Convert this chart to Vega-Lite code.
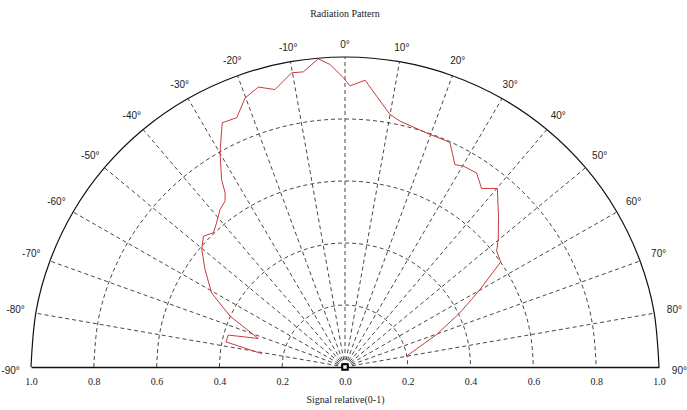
{
  "$schema": "https://vega.github.io/schema/vega-lite/v6.json",
  "width": 628,
  "height": 310,
  "autosize": {"type": "none"},
  "padding": {"left": 31, "top": 57, "right": 28, "bottom": 43},
  "background": "white",
  "title": {"text": "Radiation Pattern", "font": "Liberation Serif", "fontSize": 10, "fontWeight": "normal", "color": "#222", "anchor": "middle", "frame": "group", "offset": 21},
  "config": {"view": {"stroke": null}},
  "datasets": {
    "arcs": [
      {"r":0.2,"x":-0.2,"y":0},{"r":0.2,"x":-0.197,"y":0.0347},{"r":0.2,"x":-0.1879,"y":0.0684},{"r":0.2,"x":-0.1732,"y":0.1},{"r":0.2,"x":-0.1532,"y":0.1286},{"r":0.2,"x":-0.1286,"y":0.1532},{"r":0.2,"x":-0.1,"y":0.1732},{"r":0.2,"x":-0.0684,"y":0.1879},{"r":0.2,"x":-0.0347,"y":0.197},{"r":0.2,"x":0,"y":0.2},
      {"r":0.2,"x":0.0347,"y":0.197},{"r":0.2,"x":0.0684,"y":0.1879},{"r":0.2,"x":0.1,"y":0.1732},{"r":0.2,"x":0.1286,"y":0.1532},{"r":0.2,"x":0.1532,"y":0.1286},{"r":0.2,"x":0.1732,"y":0.1},{"r":0.2,"x":0.1879,"y":0.0684},{"r":0.2,"x":0.197,"y":0.0347},{"r":0.2,"x":0.2,"y":0},
      {"r":0.4,"x":-0.4,"y":0},{"r":0.4,"x":-0.3939,"y":0.0695},{"r":0.4,"x":-0.3759,"y":0.1368},{"r":0.4,"x":-0.3464,"y":0.2},{"r":0.4,"x":-0.3064,"y":0.2571},{"r":0.4,"x":-0.2571,"y":0.3064},{"r":0.4,"x":-0.2,"y":0.3464},{"r":0.4,"x":-0.1368,"y":0.3759},{"r":0.4,"x":-0.0695,"y":0.3939},{"r":0.4,"x":0,"y":0.4},
      {"r":0.4,"x":0.0695,"y":0.3939},{"r":0.4,"x":0.1368,"y":0.3759},{"r":0.4,"x":0.2,"y":0.3464},{"r":0.4,"x":0.2571,"y":0.3064},{"r":0.4,"x":0.3064,"y":0.2571},{"r":0.4,"x":0.3464,"y":0.2},{"r":0.4,"x":0.3759,"y":0.1368},{"r":0.4,"x":0.3939,"y":0.0695},{"r":0.4,"x":0.4,"y":0},
      {"r":0.6,"x":-0.6,"y":0},{"r":0.6,"x":-0.5909,"y":0.1042},{"r":0.6,"x":-0.5638,"y":0.2052},{"r":0.6,"x":-0.5196,"y":0.3},{"r":0.6,"x":-0.4596,"y":0.3857},{"r":0.6,"x":-0.3857,"y":0.4596},{"r":0.6,"x":-0.3,"y":0.5196},{"r":0.6,"x":-0.2052,"y":0.5638},{"r":0.6,"x":-0.1042,"y":0.5909},{"r":0.6,"x":0,"y":0.6},
      {"r":0.6,"x":0.1042,"y":0.5909},{"r":0.6,"x":0.2052,"y":0.5638},{"r":0.6,"x":0.3,"y":0.5196},{"r":0.6,"x":0.3857,"y":0.4596},{"r":0.6,"x":0.4596,"y":0.3857},{"r":0.6,"x":0.5196,"y":0.3},{"r":0.6,"x":0.5638,"y":0.2052},{"r":0.6,"x":0.5909,"y":0.1042},{"r":0.6,"x":0.6,"y":0},
      {"r":0.8,"x":-0.8,"y":0},{"r":0.8,"x":-0.7878,"y":0.1389},{"r":0.8,"x":-0.7518,"y":0.2736},{"r":0.8,"x":-0.6928,"y":0.4},{"r":0.8,"x":-0.6128,"y":0.5142},{"r":0.8,"x":-0.5142,"y":0.6128},{"r":0.8,"x":-0.4,"y":0.6928},{"r":0.8,"x":-0.2736,"y":0.7518},{"r":0.8,"x":-0.1389,"y":0.7878},{"r":0.8,"x":0,"y":0.8},
      {"r":0.8,"x":0.1389,"y":0.7878},{"r":0.8,"x":0.2736,"y":0.7518},{"r":0.8,"x":0.4,"y":0.6928},{"r":0.8,"x":0.5142,"y":0.6128},{"r":0.8,"x":0.6128,"y":0.5142},{"r":0.8,"x":0.6928,"y":0.4},{"r":0.8,"x":0.7518,"y":0.2736},{"r":0.8,"x":0.7878,"y":0.1389},{"r":0.8,"x":0.8,"y":0},
      {"r":1,"x":-1,"y":0},{"r":1,"x":-0.9848,"y":0.1736},{"r":1,"x":-0.9397,"y":0.342},{"r":1,"x":-0.866,"y":0.5},{"r":1,"x":-0.766,"y":0.6428},{"r":1,"x":-0.6428,"y":0.766},{"r":1,"x":-0.5,"y":0.866},{"r":1,"x":-0.342,"y":0.9397},{"r":1,"x":-0.1736,"y":0.9848},{"r":1,"x":0,"y":1},
      {"r":1,"x":0.1736,"y":0.9848},{"r":1,"x":0.342,"y":0.9397},{"r":1,"x":0.5,"y":0.866},{"r":1,"x":0.6428,"y":0.766},{"r":1,"x":0.766,"y":0.6428},{"r":1,"x":0.866,"y":0.5},{"r":1,"x":0.9397,"y":0.342},{"r":1,"x":0.9848,"y":0.1736},{"r":1,"x":1,"y":0}
    ],
    "spokes": [
      {"a":-80,"x":0,"y":0,"x2":-0.9848,"y2":0.1736},{"a":-70,"x":0,"y":0,"x2":-0.9397,"y2":0.342},{"a":-60,"x":0,"y":0,"x2":-0.866,"y2":0.5},{"a":-50,"x":0,"y":0,"x2":-0.766,"y2":0.6428},{"a":-40,"x":0,"y":0,"x2":-0.6428,"y2":0.766},{"a":-30,"x":0,"y":0,"x2":-0.5,"y2":0.866},{"a":-20,"x":0,"y":0,"x2":-0.342,"y2":0.9397},{"a":-10,"x":0,"y":0,"x2":-0.1736,"y2":0.9848},{"a":0,"x":0,"y":0,"x2":0,"y2":1},
      {"a":10,"x":0,"y":0,"x2":0.1736,"y2":0.9848},{"a":20,"x":0,"y":0,"x2":0.342,"y2":0.9397},{"a":30,"x":0,"y":0,"x2":0.5,"y2":0.866},{"a":40,"x":0,"y":0,"x2":0.6428,"y2":0.766},{"a":50,"x":0,"y":0,"x2":0.766,"y2":0.6428},{"a":60,"x":0,"y":0,"x2":0.866,"y2":0.5},{"a":70,"x":0,"y":0,"x2":0.9397,"y2":0.342},{"a":80,"x":0,"y":0,"x2":0.9848,"y2":0.1736}
    ],
    "labels": [
      {"lab":"-90°","x":-1.065,"y":-0.012},{"lab":"-80°","x":-1.049,"y":0.185},{"lab":"-70°","x":-0.999,"y":0.364},{"lab":"-60°","x":-0.919,"y":0.531},{"lab":"-50°","x":-0.811,"y":0.681},{"lab":"-40°","x":-0.679,"y":0.809},{"lab":"-30°","x":-0.526,"y":0.911},{"lab":"-20°","x":-0.359,"y":0.986},{"lab":"-10°","x":-0.181,"y":1.028},{"lab":"0°","x":0,"y":1.04},
      {"lab":"10°","x":0.181,"y":1.028},{"lab":"20°","x":0.359,"y":0.986},{"lab":"30°","x":0.526,"y":0.911},{"lab":"40°","x":0.679,"y":0.809},{"lab":"50°","x":0.811,"y":0.681},{"lab":"60°","x":0.919,"y":0.531},{"lab":"70°","x":0.999,"y":0.364},{"lab":"80°","x":1.049,"y":0.185},{"lab":"90°","x":1.065,"y":-0.012}
    ],
    "pattern": [
      {"i":1,"x":-0.265,"y":0.043},{"i":2,"x":-0.379,"y":0.081},{"i":3,"x":-0.372,"y":0.103},{"i":4,"x":-0.276,"y":0.092},{"i":5,"x":-0.366,"y":0.164},{"i":6,"x":-0.425,"y":0.239},{"i":7,"x":-0.446,"y":0.315},{"i":8,"x":-0.456,"y":0.379},{"i":9,"x":-0.451,"y":0.422},{"i":10,"x":-0.419,"y":0.433},
      {"i":11,"x":-0.409,"y":0.465},{"i":12,"x":-0.398,"y":0.508},{"i":13,"x":-0.382,"y":0.535},{"i":14,"x":-0.382,"y":0.562},{"i":15,"x":-0.393,"y":0.605},{"i":16,"x":-0.398,"y":0.692},{"i":17,"x":-0.391,"y":0.788},{"i":18,"x":-0.345,"y":0.804},{"i":19,"x":-0.318,"y":0.868},{"i":20,"x":-0.276,"y":0.903},
      {"i":21,"x":-0.223,"y":0.895},{"i":22,"x":-0.17,"y":0.949},{"i":23,"x":-0.133,"y":0.952},{"i":24,"x":-0.085,"y":0.994},{"i":25,"x":-0.048,"y":0.976},{"i":26,"x":-0.005,"y":0.933},{"i":27,"x":0.016,"y":0.907},{"i":28,"x":0.064,"y":0.925},{"i":29,"x":0.143,"y":0.815},{"i":30,"x":0.175,"y":0.793},
      {"i":31,"x":0.271,"y":0.75},{"i":32,"x":0.334,"y":0.725},{"i":33,"x":0.35,"y":0.653},{"i":34,"x":0.377,"y":0.648},{"i":35,"x":0.419,"y":0.626},{"i":36,"x":0.435,"y":0.576},{"i":37,"x":0.485,"y":0.576},{"i":38,"x":0.489,"y":0.486},{"i":39,"x":0.488,"y":0.411},{"i":40,"x":0.483,"y":0.374},
      {"i":41,"x":0.496,"y":0.339},{"i":42,"x":0.43,"y":0.25},{"i":43,"x":0.403,"y":0.218},{"i":44,"x":0.366,"y":0.175},{"i":45,"x":0.292,"y":0.105},{"i":46,"x":0.196,"y":0.035}
    ],
    "center": [{"x":0,"y":0}]
  },
  "encoding": {
    "x": {
      "field": "x", "type": "quantitative",
      "scale": {"domain": [-1, 1], "nice": false, "zero": false},
      "axis": {
        "title": "Signal relative(0-1)",
        "values": [-1, -0.8, -0.6, -0.4, -0.2, 0, 0.2, 0.4, 0.6, 0.8, 1],
        "labelExpr": "format(abs(datum.value), '.1f')",
        "ticks": false, "grid": false,
        "domainColor": "#111", "domainWidth": 1.3,
        "labelFont": "Liberation Serif", "labelFontSize": 10, "labelColor": "#222",
        "labelPadding": 9, "labelFlush": false, "labelOverlap": false,
        "titleFont": "Liberation Serif", "titleFontSize": 10, "titleFontWeight": "normal", "titleColor": "#222",
        "titlePadding": 8
      }
    },
    "y": {"field": "y", "type": "quantitative", "scale": {"domain": [0, 1], "nice": false}, "axis": null}
  },
  "layer": [
    {
      "data": {"name": "arcs"},
      "transform": [{"filter": "datum.r < 1"}],
      "mark": {"type": "line", "interpolate": "natural", "stroke": "#333", "strokeWidth": 0.9, "strokeDash": [4, 3]},
      "encoding": {"detail": {"field": "r", "type": "nominal"}}
    },
    {
      "data": {"name": "arcs"},
      "transform": [{"filter": "datum.r == 1"}],
      "mark": {"type": "line", "interpolate": "natural", "stroke": "#111", "strokeWidth": 1.2},
      "encoding": {"detail": {"field": "r", "type": "nominal"}}
    },
    {
      "data": {"name": "spokes"},
      "mark": {"type": "rule", "stroke": "#333", "strokeWidth": 0.9, "strokeDash": [4, 3]},
      "encoding": {"x2": {"field": "x2"}, "y2": {"field": "y2"}}
    },
    {
      "data": {"name": "pattern"},
      "mark": {"type": "line", "stroke": "#c83c3c", "strokeWidth": 1},
      "encoding": {"order": {"field": "i", "type": "quantitative"}}
    },
    {
      "data": {"name": "labels"},
      "mark": {"type": "text", "font": "Liberation Sans", "fontSize": 10, "color": "#222", "align": "center", "baseline": "middle"},
      "encoding": {"text": {"field": "lab", "type": "nominal"}}
    },
    {
      "data": {"name": "center"},
      "mark": {"type": "point", "shape": "square", "size": 30, "filled": false, "fill": "white", "stroke": "#000", "strokeWidth": 2, "opacity": 1},
      "encoding": {}
    }
  ]
}
